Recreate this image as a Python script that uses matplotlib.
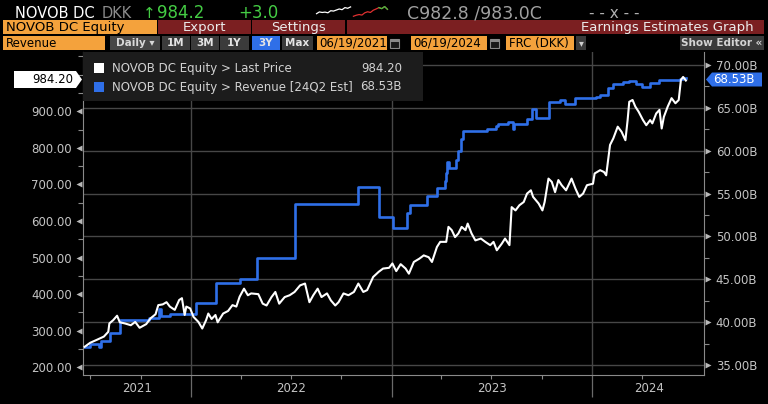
import numpy as np
import pandas as pd
import matplotlib
matplotlib.use('Agg')
import matplotlib.pyplot as plt
import matplotlib.dates as mdates
from matplotlib.patches import Rectangle, Polygon
from matplotlib.ticker import FixedLocator, NullFormatter
from matplotlib.transforms import blended_transform_factory

plt.rcParams['font.family'] = ['DejaVu Sans']

# ---------------- data ----------------
price_dates = [
    '2021-06-21', '2021-07-01', '2021-07-13', '2021-07-26', '2021-08-03', '2021-08-05',
    '2021-08-12', '2021-08-19', '2021-08-24', '2021-09-02', '2021-09-13', '2021-09-21',
    '2021-09-29', '2021-10-11', '2021-10-19', '2021-10-28', '2021-11-02', '2021-11-10',
    '2021-11-17', '2021-11-23', '2021-12-02', '2021-12-10', '2021-12-15', '2021-12-20',
    '2021-12-23', '2021-12-30', '2022-01-05', '2022-01-14', '2022-01-21', '2022-01-28',
    '2022-02-01', '2022-02-07', '2022-02-14', '2022-02-18', '2022-02-28', '2022-03-09',
    '2022-03-17', '2022-03-24', '2022-03-30', '2022-04-07', '2022-04-14', '2022-04-20',
    '2022-05-03', '2022-05-11', '2022-05-18', '2022-05-27', '2022-06-03', '2022-06-10',
    '2022-06-20', '2022-06-29', '2022-07-08', '2022-07-18', '2022-07-27', '2022-08-04',
    '2022-08-11', '2022-08-19', '2022-08-26', '2022-09-05', '2022-09-12', '2022-09-20',
    '2022-09-26', '2022-10-05', '2022-10-14', '2022-10-24', '2022-11-01', '2022-11-10',
    '2022-11-17', '2022-11-28', '2022-12-08', '2022-12-16', '2022-12-27', '2023-01-02',
    '2023-01-09', '2023-01-17', '2023-01-26', '2023-02-01', '2023-02-10', '2023-02-20',
    '2023-02-28', '2023-03-09', '2023-03-15', '2023-03-24', '2023-03-30', '2023-04-10',
    '2023-04-14', '2023-04-20', '2023-04-26', '2023-05-02', '2023-05-08', '2023-05-15',
    '2023-05-19', '2023-05-26', '2023-06-02', '2023-06-12', '2023-06-20', '2023-06-29',
    '2023-07-05', '2023-07-11', '2023-07-20', '2023-07-26', '2023-08-03', '2023-08-07',
    '2023-08-14', '2023-08-21', '2023-08-29', '2023-09-04', '2023-09-11', '2023-09-15',
    '2023-09-25', '2023-10-02', '2023-10-06', '2023-10-13', '2023-10-19', '2023-10-25',
    '2023-10-31', '2023-11-06', '2023-11-14', '2023-11-24', '2023-12-01', '2023-12-08',
    '2023-12-15', '2023-12-22', '2024-01-02', '2024-01-05', '2024-01-15', '2024-01-22',
    '2024-01-26', '2024-02-02', '2024-02-08', '2024-02-16', '2024-02-23', '2024-03-01',
    '2024-03-05', '2024-03-08', '2024-03-14', '2024-03-19', '2024-03-25', '2024-04-02',
    '2024-04-08', '2024-04-15', '2024-04-19', '2024-04-26', '2024-05-02', '2024-05-06',
    '2024-05-10', '2024-05-17', '2024-05-24', '2024-05-31', '2024-06-06', '2024-06-10',
    '2024-06-14', '2024-06-19']
price_vals = [
    256, 267, 275, 284, 297, 320,
    329, 341, 323, 320, 315, 324,
    308, 318, 334, 345, 370, 372,
    378, 366, 357, 384, 389, 343,
    366, 361, 338, 324, 306, 329,
    347, 332, 343, 323, 347, 354,
    370, 366, 393, 415, 397, 402,
    400, 374, 369, 392, 406, 374,
    392, 397, 406, 424, 429, 378,
    397, 415, 392, 402, 383, 369,
    378, 402, 397, 406, 429, 406,
    411, 447, 461, 470, 472, 484,
    463, 482, 470, 456, 488, 497,
    506, 501, 488, 529, 543, 543,
    584, 575, 556, 566, 584, 575,
    593, 566, 547, 552, 543, 534,
    543, 520, 538, 552, 534, 638,
    629, 643, 652, 675, 684, 666,
    648, 629, 652, 716, 707, 679,
    712, 698, 684, 716, 689, 666,
    675, 698, 702, 730, 739, 734,
    725, 808, 826, 858, 844, 821,
    876, 926, 931, 913, 899, 876,
    862, 876, 867, 894, 904, 853,
    885, 913, 936, 922, 931, 986,
    994, 984.2]

rev_dates = [
    '2021-06-19', '2021-06-30', '2021-07-17', '2021-07-20', '2021-08-07', '2021-08-24',
    '2021-10-16', '2021-11-04', '2021-11-07', '2021-11-24', '2022-01-10', '2022-02-15',
    '2022-03-31', '2022-05-01', '2022-07-09', '2022-11-01', '2022-12-09', '2023-01-03',
    '2023-01-29', '2023-02-03', '2023-03-06', '2023-03-24', '2023-04-08', '2023-04-10',
    '2023-04-12', '2023-04-15', '2023-04-28', '2023-05-02', '2023-05-07', '2023-05-10',
    '2023-06-23', '2023-07-10', '2023-07-14', '2023-08-01', '2023-08-09', '2023-08-12',
    '2023-09-04', '2023-09-13', '2023-09-20', '2023-10-14', '2023-11-03', '2023-11-12',
    '2023-11-30', '2024-01-08', '2024-01-14', '2024-01-29', '2024-02-07', '2024-02-25',
    '2024-03-08', '2024-03-20', '2024-04-01', '2024-04-14', '2024-05-02', '2024-06-08',
    '2024-06-13', '2024-06-19']
rev_vals = [
    37.13, 37.45, 37.13, 37.84, 38.77, 40.25,
    40.52, 41.50, 40.75, 40.91, 42.27, 44.60,
    45.07, 47.52, 53.82, 55.80, 52.30, 51.02,
    52.70, 53.67, 54.75, 55.60, 56.50, 57.40,
    58.70, 57.95, 58.90, 60.00, 61.40, 62.30,
    62.50, 62.90, 63.10, 63.30, 62.50, 63.10,
    63.70, 64.87, 63.80, 65.72, 65.90, 65.40,
    66.20, 66.30, 66.50, 67.35, 67.78, 67.98,
    68.17, 67.78, 67.43, 67.86, 68.20, 68.40,
    68.53, 68.53]

price_ticks = [200, 300, 400, 500, 600, 700, 800, 900]
price_minor = [250, 350, 450, 550, 650, 750, 850, 950, 1000, 1050]
rev_ticks = [35, 40, 45, 50, 55, 60, 65, 70]
rev_minor = [37.5, 42.5, 47.5, 52.5, 57.5, 62.5, 67.5]
year_bounds = ['2022-01-01', '2023-01-01', '2024-01-01']
quarter_ticks = ['2021-07-01', '2021-10-01', '2022-04-01', '2022-07-01', '2022-10-01',
                 '2023-04-01', '2023-07-01', '2023-10-01', '2024-04-01']
year_labels = ['2021', '2022', '2023', '2024']
year_label_pos = ['2021-09-25', '2022-07-02', '2023-07-02', '2024-04-13']

last_price = '984.20'
last_rev = '68.53B'

# tiny intraday sparkline in the header
spark_white = [0.35, 0.45, 0.42, 0.44, 0.40, 0.52, 0.50, 0.56, 0.62, 0.58, 0.70, 0.66, 0.74]
spark_red = [0.20, 0.26, 0.30, 0.27, 0.40, 0.46, 0.42, 0.55, 0.62, 0.70, 0.64, 0.76, 0.60]

# ---------------- colours ----------------
BG = '#000000'
ORANGE = '#f4a23c'
DRED = '#7b1f21'
BTN = '#3b3b3b'
BLUE = '#2f6fe8'
GRID = '#474747'
AX = '#8a8a8a'
TXT = '#c4c4c4'

W, H = 768, 404
fig = plt.figure(figsize=(W / 100, H / 100), dpi=100, facecolor=BG)


def fx(x):
    return x / W


def fy(y):
    return 1 - y / H


def box(x0, y0, x1, y1, color, z=5, **kw):
    r = Rectangle((fx(x0), fy(y1)), (x1 - x0) / W, (y1 - y0) / H, transform=fig.transFigure,
                  facecolor=color, edgecolor=kw.pop('ec', 'none'), zorder=z, **kw)
    fig.add_artist(r)


def label(x, y, s, z=6, **kw):
    fig.text(fx(x), fy(y), s, zorder=z, **kw)


# ---------------- main axes ----------------
ax2 = fig.add_axes([83 / W, (H - 375) / H, 621 / W, 323 / H])
ax2.set_facecolor(BG)
ax = ax2.twinx()   # price axis lives on the left and is drawn on top
ax.yaxis.tick_left()
ax2.yaxis.tick_right()
ax.set_zorder(ax2.get_zorder() + 1)
ax.patch.set_visible(False)

pd_price = pd.to_datetime(price_dates)
pd_rev = pd.to_datetime(rev_dates)

ax2.step(pd_rev, rev_vals, where='post', color=BLUE, lw=1.9, zorder=3)
ax.plot(pd_price, price_vals, color='white', lw=1.5, zorder=3)

x0 = pd.Timestamp('2021-06-18')
x1 = pd.Timestamp('2024-07-22')
ax2.set_xlim(x0, x1)
ax.set_ylim(178.9, 1062.2)
ax2.set_ylim(33.83, 71.52)

# grid
for v in rev_ticks:
    ax2.axhline(v, color=GRID, lw=1.0, zorder=1)
for d in year_bounds:
    ax2.axvline(pd.Timestamp(d), color=GRID, lw=1.0, zorder=1)

# spines
for a in (ax, ax2):
    for s in a.spines.values():
        s.set_visible(False)
ax.spines['left'].set_visible(True)
ax.spines['left'].set_color(AX)
ax2.spines['right'].set_visible(True)
ax2.spines['right'].set_color(AX)
ax2.spines['bottom'].set_visible(True)
ax2.spines['bottom'].set_color(AX)

# left axis ticks
ax.set_yticks(price_ticks)
ax.set_yticklabels(['%.2f' % v for v in price_ticks])
ax.yaxis.set_minor_locator(FixedLocator(price_minor))
ax.tick_params(axis='y', which='major', length=0, pad=8, labelsize=8.5, labelcolor=TXT)
ax.tick_params(axis='y', which='minor', length=3.5, width=0.8, color=AX)
trL = blended_transform_factory(ax.transAxes, ax.transData)
ax.plot([-0.0058] * len(price_ticks), price_ticks, ls='none', marker='<', ms=4.5,
        color='#b8b8b8', mec='none', transform=trL, clip_on=False)

# right axis ticks
ax2.set_yticks(rev_ticks)
ax2.set_yticklabels(['%.2fB' % v for v in rev_ticks])
ax2.yaxis.set_minor_locator(FixedLocator(rev_minor))
ax2.tick_params(axis='y', which='major', length=0, pad=8.5, labelsize=8.5, labelcolor=TXT)
ax2.tick_params(axis='y', which='minor', length=3.5, width=0.8, color=AX)
trR = blended_transform_factory(ax2.transAxes, ax2.transData)
ax2.plot([1.0072] * len(rev_ticks), rev_ticks, ls='none', marker='>', ms=4.5,
         color='#b8b8b8', mec='none', transform=trR, clip_on=False)

# x axis: long year ticks, short quarter ticks, centred year labels
ax2.xaxis.set_major_locator(FixedLocator(mdates.date2num(pd.to_datetime(year_bounds))))
ax2.xaxis.set_minor_locator(FixedLocator(mdates.date2num(pd.to_datetime(quarter_ticks))))
ax2.xaxis.set_major_formatter(NullFormatter())
ax2.tick_params(axis='x', which='major', length=16, width=0.9, color='#6a6a6a')
ax2.tick_params(axis='x', which='minor', length=3, width=0.8, color=AX)
ax.tick_params(axis='x', which='both', length=0, labelbottom=False)
trX = blended_transform_factory(ax2.transData, ax2.transAxes)
for lab, d in zip(year_labels, year_label_pos):
    ax2.text(pd.Timestamp(d), -0.043, lab, transform=trX, ha='center', va='center',
             color=TXT, fontsize=8.5)

# ---------------- legend box ----------------
box(83, 52, 423, 101, '#1c1c1c', z=5)
box(94, 63, 104, 73, 'white', z=6)
box(94, 82, 104, 92, BLUE, z=6)
label(112, 68.5, 'NOVOB DC Equity > Last Price', color='#d2d2d2', fontsize=8.5, va='center')
label(112, 87, 'NOVOB DC Equity > Revenue [24Q2 Est]', color='#d2d2d2', fontsize=8.5, va='center')
label(402, 68.5, last_price, color='#d2d2d2', fontsize=8.5, va='center', ha='right')
label(402, 87, last_rev, color='#d2d2d2', fontsize=8.5, va='center', ha='right')

# last value flags on the axes
fig.add_artist(Polygon([(fx(14), fy(71)), (fx(76), fy(71)), (fx(82), fy(79.5)),
                        (fx(76), fy(88)), (fx(14), fy(88))], closed=True,
                       transform=fig.transFigure, facecolor='white', edgecolor='none', zorder=7))
label(73, 79.5, last_price, z=8, color='black', fontsize=8.5, va='center', ha='right')
fig.add_artist(Polygon([(fx(706), fy(79.5)), (fx(712), fy(72.5)), (fx(762), fy(72.5)),
                        (fx(762), fy(86.5)), (fx(712), fy(86.5))], closed=True,
                       transform=fig.transFigure, facecolor=BLUE, edgecolor='none', zorder=7))
label(713, 79.5, last_rev, z=8, color='white', fontsize=8.5, va='center')

# ---------------- header: row 1 ----------------
label(15, 13, 'NOVOB DC', color='white', fontsize=10.5, va='center')
label(102, 13, 'DKK', color='#8c8c8c', fontsize=10.5, va='center')
label(143, 13, '\u2191', color='#44cc44', fontsize=11, va='center')
label(157, 13, '984.2', color='#44cc44', fontsize=12, va='center')
label(238, 13, '+3.0', color='#44cc44', fontsize=12, va='center')
label(407, 13, 'C982.8 /983.0C', color='#a0a0a0', fontsize=12.5, va='center')
label(589, 13, '- - x - -', color='#b0b0b0', fontsize=11, va='center')

sp = fig.add_axes([313 / W, 1 - 18 / H, 78 / W, 13 / H])
sp.axis('off')
sp.set_facecolor(BG)
sp.plot(np.arange(len(spark_white)), spark_white, color='white', lw=0.9)
sp.plot(np.arange(len(spark_red)) + len(spark_white), spark_red, color='#e03030', lw=0.9)
sp.plot(np.arange(len(spark_red))[-4:] + len(spark_white), spark_red[-4:], color='#40c040', lw=0.9)
sp.set_ylim(0.1, 0.85)

# ---------------- header: row 2 ----------------
box(3, 20.5, 157, 33.5, ORANGE)
box(158, 20.5, 251, 33.5, DRED)
box(252, 20.5, 345, 33.5, DRED)
box(347, 20.5, 764, 33.5, DRED)
label(6, 27, 'NOVOB DC Equity', color='black', fontsize=9.5, va='center')
label(204, 27, 'Export', color='#ececec', fontsize=9.5, va='center', ha='center')
label(298, 27, 'Settings', color='#ececec', fontsize=9.5, va='center', ha='center')
label(754, 27, 'Earnings Estimates Graph', color='#ececec', fontsize=9.5, va='center', ha='right')

# ---------------- header: row 3 ----------------
box(3, 36.5, 105, 50, ORANGE)
label(6, 43.3, 'Revenue', color='black', fontsize=8.5, va='center')
box(110, 36.5, 160, 50, '#474747')
label(135, 43.3, 'Daily \u25be', color='#d8d8d8', fontsize=7.5, va='center', ha='center',
      fontweight='bold')
buttons = ['1M', '3M', '1Y', '3Y', 'Max']
btn_x = [(162, 190), (191, 219), (220, 249), (252, 280), (282, 313)]
for b, (a0, a1) in zip(buttons, btn_x):
    box(a0, 36.5, a1, 50, BLUE if b == '3Y' else BTN)
    label((a0 + a1) / 2, 43.3, b, color='#e4e4e4', fontsize=7.5, va='center', ha='center',
          fontweight='bold')
box(317, 36.5, 387, 50, ORANGE)
label(319, 43.3, '06/19/2021', color='black', fontsize=8.5, va='center')
box(411, 36.5, 487, 50, ORANGE)
label(413, 43.3, '06/19/2024', color='black', fontsize=8.5, va='center')
for c in (390, 490):
    box(c, 39.5, c + 9, 47.5, '#1a1a1a', ec='#8a8a8a', lw=0.8)
    box(c, 39.5, c + 9, 41.5, '#8a8a8a', z=6)
box(506, 36.5, 574, 50, ORANGE)
label(509, 43.3, 'FRC (DKK)', color='black', fontsize=8.5, va='center')
box(576, 36.5, 586, 50, BTN)
label(581, 43.3, '\u25be', color='#d0d0d0', fontsize=7, va='center', ha='center')
box(680, 36.5, 764, 50, BTN)
label(722, 43.3, 'Show Editor \u00ab', color='#d4d4d4', fontsize=7.5, va='center', ha='center',
      fontweight='bold')

fig.savefig('out.png', dpi=100, facecolor=BG)
